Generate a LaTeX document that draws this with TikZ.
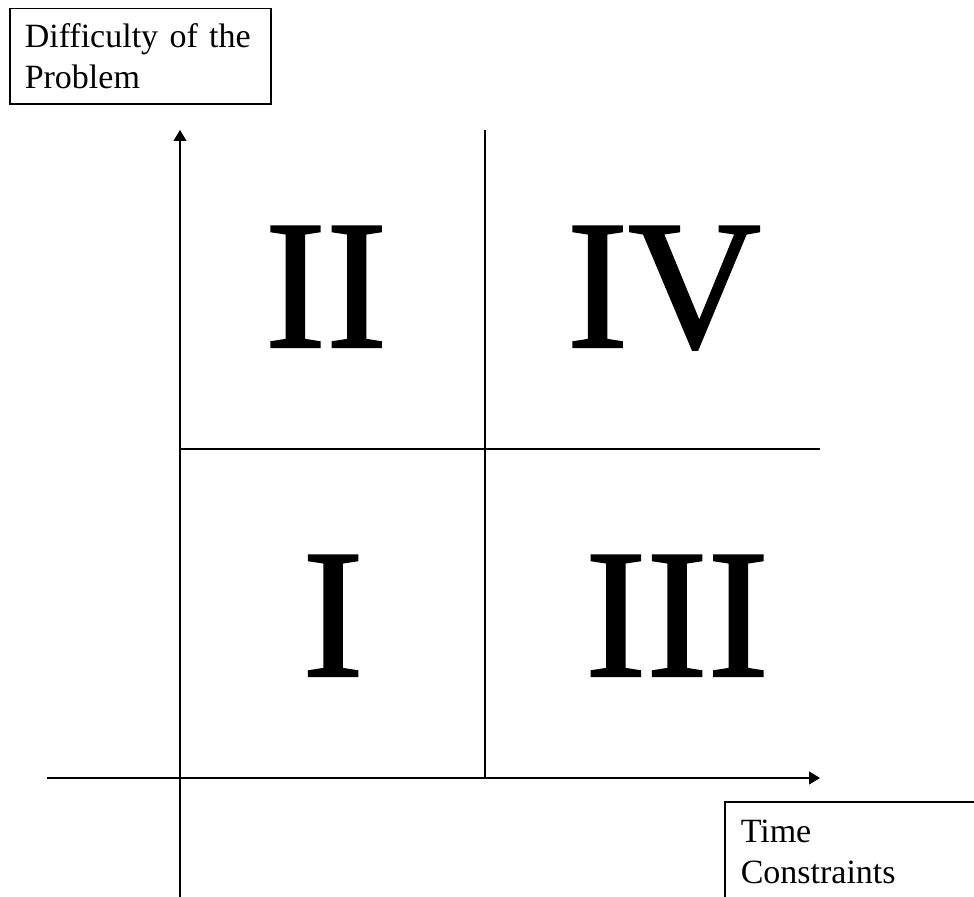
\documentclass[tikz,border=0pt]{standalone}
\usepackage{fontspec}
\setmainfont{Liberation Serif}
\newfontfamily\numeral{Liberation Serif}[RawFeature={embolden=1.2}]
\usetikzlibrary{arrows.meta,positioning}

\begin{document}
\begin{tikzpicture}[x=0.5pt, y=-0.5pt,
  caja/.style={draw, line width=0.75pt, anchor=north west, align=left,
    text width=#1, inner xsep=7.5pt, inner ysep=7.5pt,
    font=\fontsize{17}{20.5}\selectfont},
  cuadrante/.style={anchor=base, inner sep=0pt,
    font=\numeral\fontsize{92}{92}\selectfont},
  eje/.style={line width=0.6pt},
  flecha/.style={eje, -{Triangle[length=5.5pt, width=6.5pt]}},
]
  \useasboundingbox (0,0) rectangle (974,897);
  % Puntos de los ejes
  \coordinate (yini) at (180,897);
  \coordinate (yfin) at (180,130);
  \coordinate (xini) at (47,778);
  \coordinate (xfin) at (820,778);
  \coordinate (varriba) at (485,130);
  \coordinate (vabajo) at (485,778);
  \coordinate (hizq) at (180,449);
  \coordinate (hder) at (820,449);
  % Ejes
  \draw[flecha] (yini) -- (yfin);
  \draw[flecha] (xini) -- (xfin);
  % Cuadrantes
  \draw[eje] (varriba) -- (vabajo);
  \draw[eje] (hizq) -- (hder);
  \node[cuadrante] (q2) at (326,347) {II};
  \node[cuadrante] (q4) at (664,347) {IV};
  \node[cuadrante] (q1) at (333,676) {I};
  \node[cuadrante] (q3) at (677,676) {III};
  % Etiquetas de los ejes
  \node[caja=115.5pt] (dificultad) at (9,8) {Difficulty of the\\Problem};
  \node[caja=115pt, inner xsep=8pt, inner ysep=8.9pt] (tiempo) at (724,801)
    {Time\\Constraints};
\end{tikzpicture}
\end{document}
